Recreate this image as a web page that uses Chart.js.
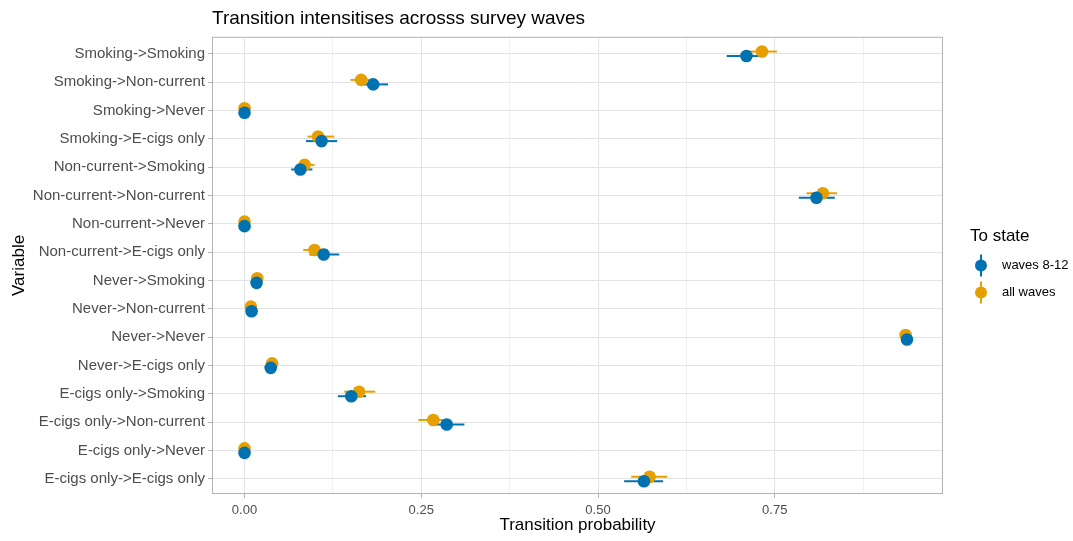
<!DOCTYPE html>
<html lang="en">
<head>
    <meta charset="UTF-8">
    <title>Transition intensities</title>
    <script src="https://cdn.jsdelivr.net/npm/chart.js"></script>
    <style>
        body { margin: 0; background: #fff; }
        #wrap { width: 1073px; height: 541px; }
    </style>
</head>
<body>
    <div id="wrap"><canvas id="chart"></canvas></div>
    <script>
        const transitions = [
            "Smoking->Smoking", "Smoking->Non-current", "Smoking->Never", "Smoking->E-cigs only",
            "Non-current->Smoking", "Non-current->Non-current", "Non-current->Never", "Non-current->E-cigs only",
            "Never->Smoking", "Never->Non-current", "Never->Never", "Never->E-cigs only",
            "E-cigs only->Smoking", "E-cigs only->Non-current", "E-cigs only->Never", "E-cigs only->E-cigs only"
        ];
        // waves 8-12
        const recentEst = [0.710, 0.182, 0.000, 0.109, 0.079, 0.809, 0.000, 0.112, 0.017, 0.010, 0.937, 0.037, 0.151, 0.286, 0.000, 0.565];
        const recentLo  = [0.682, 0.168, 0.000, 0.087, 0.066, 0.784, 0.000, 0.092, 0.014, 0.008, 0.933, 0.034, 0.132, 0.263, 0.000, 0.537];
        const recentHi  = [0.737, 0.203, 0.000, 0.131, 0.096, 0.835, 0.000, 0.134, 0.020, 0.012, 0.941, 0.040, 0.172, 0.311, 0.000, 0.592];
        // all waves
        const allEst = [0.732, 0.165, 0.000, 0.104, 0.085, 0.818, 0.000, 0.099, 0.018, 0.009, 0.935, 0.039, 0.162, 0.267, 0.000, 0.573];
        const allLo  = [0.712, 0.150, 0.000, 0.089, 0.074, 0.795, 0.000, 0.083, 0.016, 0.008, 0.932, 0.037, 0.141, 0.246, 0.000, 0.547];
        const allHi  = [0.753, 0.180, 0.000, 0.127, 0.099, 0.838, 0.000, 0.118, 0.021, 0.011, 0.938, 0.041, 0.185, 0.288, 0.000, 0.598];
        const xTickLabels = ["0.00", "0.25", "0.50", "0.75"];

        const blue = "#0072B2";
        const orange = "#E69F00";
        const font = "'Liberation Sans', Arial, sans-serif";

        function points(est, lo, hi, shift) {
            return est.map((v, i) => ({ x: v, y: i + shift, lo: lo[i], hi: hi[i] }));
        }

        function isMajor(v) {
            return Math.abs(v / 0.25 - Math.round(v / 0.25)) < 1e-6;
        }

        const errorBars = {
            id: "errorBars",
            beforeDatasetsDraw(chart) {
                const { ctx, scales: { x, y } } = chart;
                chart.data.datasets.forEach(ds => {
                    ctx.save();
                    ctx.strokeStyle = ds.backgroundColor;
                    ctx.lineWidth = 2;
                    ds.data.forEach(p => {
                        if (p.hi - p.lo <= 0) return;
                        const py = y.getPixelForValue(p.y);
                        ctx.beginPath();
                        ctx.moveTo(x.getPixelForValue(p.lo), py);
                        ctx.lineTo(x.getPixelForValue(p.hi), py);
                        ctx.stroke();
                    });
                    ctx.restore();
                });
            }
        };

        // panel border + the ggplot-style legend on the right
        const panelAndLegend = {
            id: "panelAndLegend",
            afterDraw(chart) {
                const { ctx, chartArea: a } = chart;
                ctx.save();
                ctx.strokeStyle = "#b3b3b3";
                ctx.lineWidth = 1;
                ctx.strokeRect(a.left + 0.5, a.top + 0.5, a.right - a.left - 1, a.bottom - a.top - 1);

                const lx = a.right + 27;
                const mid = (a.top + a.bottom) / 2;
                ctx.fillStyle = "#000";
                ctx.textBaseline = "middle";
                ctx.textAlign = "left";
                ctx.font = "17px " + font;
                ctx.fillText("To state", lx, mid - 29);
                ctx.font = "13px " + font;
                chart.data.datasets.forEach((ds, i) => {
                    const cy = mid + i * 27;
                    const cx = lx + 11;
                    ctx.strokeStyle = ds.backgroundColor;
                    ctx.lineWidth = 2;
                    ctx.beginPath(); ctx.moveTo(cx, cy - 11); ctx.lineTo(cx, cy + 11); ctx.stroke();
                    ctx.fillStyle = ds.backgroundColor;
                    ctx.beginPath(); ctx.arc(cx, cy, 6, 0, Math.PI * 2); ctx.fill();
                    ctx.fillStyle = "#000";
                    ctx.fillText(ds.label, lx + 32, cy);
                });
                ctx.restore();
            }
        };

        new Chart(document.getElementById("chart"), {
            type: "scatter",
            data: {
                datasets: [
                    { label: "waves 8-12", data: points(recentEst, recentLo, recentHi, 0.08),
                      backgroundColor: blue, borderColor: blue, pointRadius: 6.3, pointBorderWidth: 0, pointHoverRadius: 6.3 },
                    { label: "all waves", data: points(allEst, allLo, allHi, -0.08),
                      backgroundColor: orange, borderColor: orange, pointRadius: 6.3, pointBorderWidth: 0, pointHoverRadius: 6.3 }
                ]
            },
            options: {
                responsive: true,
                maintainAspectRatio: false,
                animation: false,
                layout: { padding: { left: 5, right: 130, top: 0, bottom: 5 } },
                plugins: {
                    tooltip: { enabled: false },
                    legend: { display: false },
                    title: {
                        display: true,
                        text: "Transition intensitises acrosss survey waves",
                        align: "start",
                        fullSize: false,
                        color: "#000",
                        font: { family: font, size: 19, weight: "normal" },
                        padding: { top: 7, bottom: 7 }
                    }
                },
                scales: {
                    x: {
                        type: "linear",
                        min: -0.046,
                        max: 0.988,
                        afterBuildTicks(scale) {
                            const t = [];
                            for (let v = 0; v <= 0.875 + 1e-9; v += 0.125) t.push({ value: Math.round(v * 1000) / 1000 });
                            scale.ticks = t;
                        },
                        afterFit(scale) { scale.height = 42; },
                        ticks: {
                            autoSkip: false,
                            maxRotation: 0,
                            color: "#4d4d4d",
                            font: { family: font, size: 13 },
                            padding: 5,
                            callback(v) {
                                return isMajor(v) ? xTickLabels[Math.round(v / 0.25)] : "";
                            }
                        },
                        grid: {
                            color(ctx) {
                                const v = ctx.tick ? ctx.tick.value : 0;
                                return isMajor(v) ? "#e3e3e3" : "#f0f0f0";
                            },
                            tickLength: 4,
                            tickColor(ctx) {
                                const v = ctx.tick ? ctx.tick.value : 0;
                                return isMajor(v) ? "#b3b3b3" : "rgba(0,0,0,0)";
                            },
                            drawTicks: true
                        },
                        border: { display: false },
                        title: {
                            display: true,
                            text: "Transition probability",
                            color: "#000",
                            font: { family: font, size: 17 },
                            padding: { top: 0, bottom: 0 }
                        }
                    },
                    y: {
                        type: "linear",
                        reverse: true,
                        min: -0.6,
                        max: 15.53,
                        afterBuildTicks(scale) {
                            scale.ticks = transitions.map((_, i) => ({ value: i }));
                        },
                        afterFit(scale) { scale.width = 207; },
                        ticks: {
                            autoSkip: false,
                            color: "#4d4d4d",
                            font: { family: font, size: 15 },
                            padding: 3,
                            callback(v) { return transitions[v]; }
                        },
                        grid: {
                            color: "#e3e3e3",
                            tickLength: 4,
                            tickColor: "#b3b3b3"
                        },
                        border: { display: false },
                        title: {
                            display: true,
                            text: "Variable",
                            color: "#000",
                            font: { family: font, size: 17 },
                            padding: { top: 4, bottom: 0 }
                        }
                    }
                }
            },
            plugins: [errorBars, panelAndLegend]
        });
    </script>
</body>
</html>
